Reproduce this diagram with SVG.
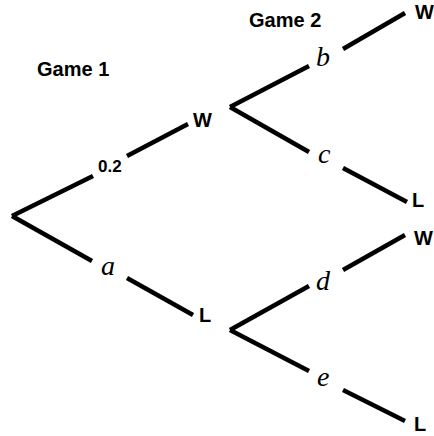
<svg xmlns="http://www.w3.org/2000/svg" width="434" height="436" viewBox="0 0 434 436">
<style>
.bold{font-family:"Liberation Sans",Arial,sans-serif;font-weight:bold;font-size:20px;fill:#000}
.prob{font-family:"Liberation Sans",Arial,sans-serif;font-weight:bold;font-size:17px;fill:#000}
.var{font-family:"Liberation Serif","Times New Roman",serif;font-style:italic;font-size:28px;fill:#000}
.edge{stroke:#000;stroke-width:4.5;fill:none;stroke-linecap:butt}
</style>
<rect width="434" height="436" fill="#fff"/>
<g id="headers">
<text class="bold" x="37" y="76">Game 1</text>
<text class="bold" x="249" y="27">Game 2</text>
</g>
<g id="connectors">
<line class="edge" x1="12" y1="216" x2="93" y2="176"/>
<line class="edge" x1="127" y1="156" x2="188" y2="124"/>
<line class="edge" x1="12" y1="216" x2="92" y2="261"/>
<line class="edge" x1="127" y1="278" x2="193" y2="315"/>
<line class="edge" x1="230" y1="107" x2="309" y2="66"/>
<line class="edge" x1="343" y1="49" x2="405" y2="13"/>
<line class="edge" x1="230" y1="107" x2="309" y2="152"/>
<line class="edge" x1="343" y1="168" x2="407" y2="202"/>
<line class="edge" x1="230" y1="330" x2="309" y2="286"/>
<line class="edge" x1="343" y1="270" x2="405" y2="235"/>
<line class="edge" x1="230" y1="330" x2="309" y2="371"/>
<line class="edge" x1="343" y1="390" x2="405" y2="421"/>
</g>
<g id="edge-labels">
<text class="prob" x="98" y="172">0.2</text>
<text class="var" x="101" y="275">a</text>
<text class="var" x="316" y="66">b</text>
<text class="var" x="318" y="163">c</text>
<text class="var" x="316" y="290">d</text>
<text class="var" x="317" y="386">e</text>
</g>
<g id="node-g1-W"><text class="bold" x="193" y="127">W</text></g>
<g id="node-g1-L"><text class="bold" x="199" y="322">L</text></g>
<g id="node-g2-WW"><text class="bold" x="415" y="19">W</text></g>
<g id="node-g2-WL"><text class="bold" x="412" y="207">L</text></g>
<g id="node-g2-LW"><text class="bold" x="414" y="245">W</text></g>
<g id="node-g2-LL"><text class="bold" x="414" y="431">L</text></g>
</svg>
